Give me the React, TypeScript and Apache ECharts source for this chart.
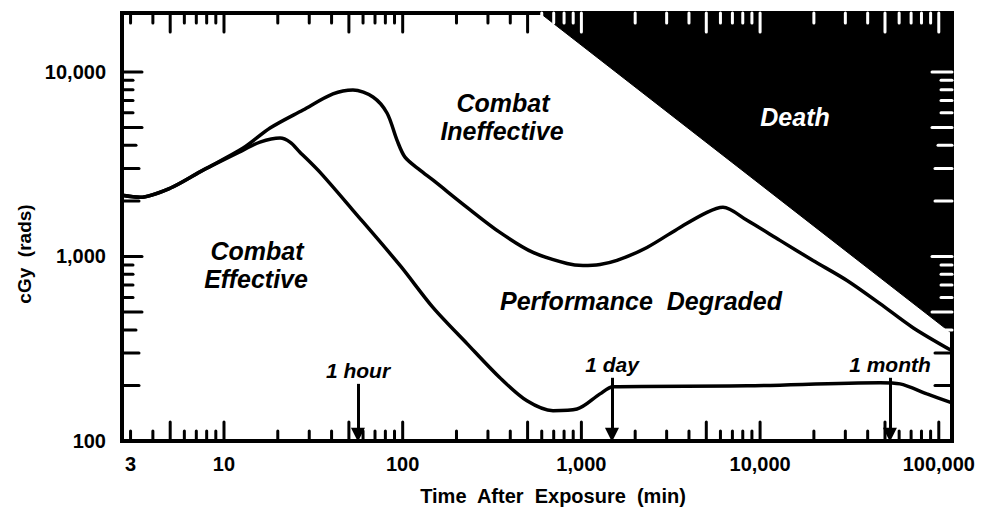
import React, { useEffect, useRef } from "react";
import * as echarts from "echarts";

// ---- data (minutes, cGy) ----
const xRange = [2.687, 118560];
const yRange = [100, 20850];
const xLabelValues = [3, 10, 100, 1000, 10000, 100000];
const yLabelValues = [100, 1000, 10000];

const ineffectiveTime = [2.69, 3.39, 4.99, 7.63, 12.8, 18.1, 27.7, 40.7, 52.7, 68.2, 81.7, 92.9, 103, 125, 148, 229, 350, 536, 831, 1021, 1271, 1582, 2329, 3563, 5047, 6200, 8450, 12920, 19770, 30640, 46890, 71730, 118560];
const ineffectiveDose = [2146, 2093, 2342, 2934, 3864, 4963, 6217, 7594, 7985, 7313, 5988, 4270, 3452, 2934, 2588, 1846, 1350, 1051, 916, 894, 905, 951, 1119, 1437, 1734, 1846, 1570, 1222, 951, 741, 555, 411, 308];

const effectiveTime = [2.69, 3.39, 4.99, 7.63, 12.8, 15.9, 20.6, 23.4, 26.6, 34.4, 52.7, 96.6, 148, 229, 350, 496, 694, 945, 1271, 1503, 8450, 46890, 60670, 85900, 118560];
const effectiveDose = [2146, 2093, 2342, 2934, 3769, 4165, 4379, 4165, 3674, 2861, 1778, 894, 528, 337, 220, 165, 146, 149, 180, 197, 199, 207, 204, 180, 161];

const deathTime = [587, 118560];
const deathDose = [20850, 382];

const markerLabels = ["1 hour", "1 day", "1 month"];
const markerTime = [56.2, 1483, 53300];
const markerTopDose = [204, 220, 220];
const markerBottomDose = 108;

const lx = (v: number) => Math.log10(v);
const fmt = (v: number) => Math.round(Math.pow(10, v)).toLocaleString("en-US");

function buildTicks() {
  const rows: number[][] = [];
  for (let d = 0; d <= 5; d++) {
    for (let m = 1; m <= 9; m++) {
      const v = m * Math.pow(10, d);
      if (v < xRange[0] || v > xRange[1]) continue;
      rows.push([lx(v), lx(yRange[0]), 0, m, 0]);
      rows.push([lx(v), lx(yRange[1]), 1, m, v >= deathTime[0] ? 1 : 0]);
    }
  }
  for (let d = 2; d <= 4; d++) {
    for (let m = 1; m <= 9; m++) {
      const v = m * Math.pow(10, d);
      if (v <= yRange[0] || v > yRange[1] * 0.9) continue;
      rows.push([lx(xRange[0]), lx(v), 2, m, 0]);
      rows.push([lx(xRange[1]), lx(v), 3, m, v >= deathDose[1] ? 1 : 0]);
    }
  }
  return rows;
}

const FONT = "'Liberation Sans', Arial, Helvetica, sans-serif";
const NOTE_FONT = `italic bold 25px ${FONT}`;

export default function App() {
  const ref = useRef<HTMLDivElement>(null);
  useEffect(() => {
    if (!ref.current) return;
    const chart = echarts.init(ref.current, null, { renderer: "svg" });
    const toPts = (t: number[], d: number[]) => t.map((v, i) => [lx(v), lx(d[i])]);
    const note = (text: string, x: number, y: number, fill = "#000") => ({
      type: "text",
      x,
      y,
      z: 10,
      style: { text, font: NOTE_FONT, fill, align: "center", verticalAlign: "middle" },
    });
    const option: any = {
      animation: false,
      textStyle: { fontFamily: FONT },
      grid: { left: 122, right: 42, top: 13, bottom: 69, show: true, borderColor: "#000", borderWidth: 4, backgroundColor: "#fff" },
      xAxis: {
        type: "value",
        min: lx(xRange[0]),
        max: lx(xRange[1]),
        name: "Time  After  Exposure  (min)",
        nameLocation: "middle",
        nameGap: 45,
        nameTextStyle: { fontSize: 20, fontWeight: "bold", color: "#000", fontFamily: FONT, padding: [0, 0, 0, 32] },
        axisLine: { show: false },
        axisTick: { show: false },
        splitLine: { show: false },
        axisLabel: {
          customValues: xLabelValues.map(lx),
          formatter: (v: number) => fmt(v),
          fontSize: 20,
          fontWeight: "bold",
          color: "#000",
          margin: 13,
          fontFamily: FONT,
        },
      },
      yAxis: {
        type: "value",
        min: lx(yRange[0]),
        max: lx(yRange[1]),
        interval: 1,
        name: "cGy  (rads)",
        nameLocation: "middle",
        nameGap: 82,
        nameRotate: 90,
        nameTextStyle: { fontSize: 19, fontWeight: "bold", color: "#000", fontFamily: FONT, padding: [0, 54, 0, 0] },
        axisLine: { show: false },
        axisTick: { show: false },
        splitLine: { show: false },
        axisLabel: {
          customValues: yLabelValues.map(lx),
          formatter: (v: number) => fmt(v),
          fontSize: 20,
          fontWeight: "bold",
          color: "#000",
          margin: 16,
          fontFamily: FONT,
        },
      },
      series: [
        {
          type: "line",
          name: "Death",
          data: toPts(deathTime, deathDose),
          showSymbol: false,
          lineStyle: { color: "#000", width: 1 },
          areaStyle: { color: "#000", opacity: 1, origin: "end" },
          z: 1,
          silent: true,
        },
        {
          type: "line",
          name: "Ineffective",
          data: toPts(ineffectiveTime, ineffectiveDose),
          smooth: 0.3,
          showSymbol: false,
          lineStyle: { color: "#000", width: 3.5 },
          z: 3,
          silent: true,
        },
        {
          type: "line",
          name: "Effective",
          data: toPts(effectiveTime, effectiveDose),
          smooth: 0.3,
          showSymbol: false,
          lineStyle: { color: "#000", width: 3.5 },
          z: 3,
          silent: true,
          markLine: {
            silent: true,
            symbol: ["none", "triangle"],
            symbolSize: 14,
            lineStyle: { color: "#000", width: 3, type: "solid" },
            label: {
              show: true,
              position: "start",
              formatter: "{b}",
              fontSize: 21,
              fontWeight: "bold",
              fontStyle: "italic",
              color: "#000",
              distance: 3,
              fontFamily: FONT,
            },
            emphasis: { disabled: true },
            data: markerLabels.map((name, i) => [
              { name, coord: [lx(markerTime[i]), lx(markerTopDose[i])] },
              { coord: [lx(markerTime[i]), lx(markerBottomDose)] },
            ]),
          },
        },
        {
          type: "custom",
          name: "ticks",
          silent: true,
          z: 5,
          clip: false,
          encode: { x: 0, y: 1 },
          data: buildTicks(),
          renderItem: (_p: any, api: any) => {
            const p = api.coord([api.value(0), api.value(1)]);
            const side = api.value(2);
            const m = api.value(3);
            const white = api.value(4) === 1;
            let len: number;
            if (side < 2) len = m === 1 || m === 5 ? 19 : 10;
            else len = m === 1 || m === 5 ? 20 : m <= 3 ? 17 : m === 4 ? 14 : 11;
            let dx = 0, dy = 0;
            if (side === 0) dy = -len;
            else if (side === 1) dy = len;
            else if (side === 2) dx = len;
            else dx = -len;
            return {
              type: "line",
              shape: { x1: p[0], y1: p[1], x2: p[0] + dx, y2: p[1] + dy },
              style: { stroke: white ? "#fff" : "#000", lineWidth: 3, lineCap: "round" },
            };
          },
        },
      ],
      graphic: [
        note("Combat", 503, 103),
        note("Ineffective", 502, 131),
        note("Combat", 257, 251),
        note("Effective", 256, 279),
        note("Performance  Degraded", 641, 301),
        note("Death", 795, 117, "#fff"),
      ],
    };
    chart.setOption(option);
    return () => chart.dispose();
  }, []);
  return <div ref={ref} style={{ position: "fixed", left: 0, top: 0, width: 994, height: 511, background: "#fff" }} />;
}
